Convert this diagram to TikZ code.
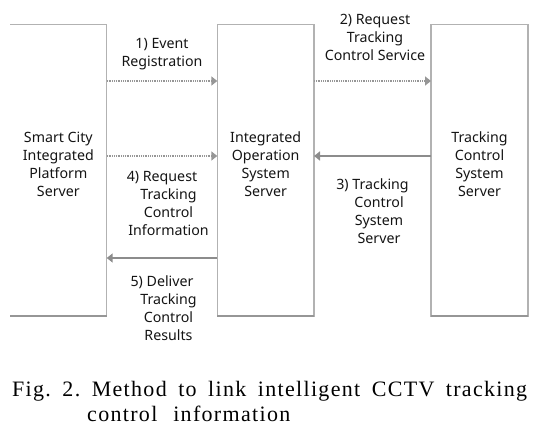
\documentclass[tikz,border=0pt]{standalone}
\usepackage{fontspec}
\setmainfont{Liberation Serif}
\newfontfamily\diagfont{Noto Sans}
\newfontfamily\capfont[LetterSpace=6]{Liberation Serif}
\usetikzlibrary{arrows.meta}
\definecolor{boxgray}{RGB}{178,178,178}
\definecolor{shadowgray}{RGB}{150,150,150}
\definecolor{arrowgray}{RGB}{140,140,140}
\definecolor{dotgray}{RGB}{150,150,150}
\definecolor{txt}{RGB}{20,20,20}
\frenchspacing
\begin{document}
\begin{tikzpicture}[x=1pt,y=-1pt,
  box/.style={line width=1.1pt,minimum width=96.7pt,minimum height=292.4pt,inner sep=0pt,outer sep=0pt},
  lbl/.style={font=\diagfont\fontsize{14.2}{18}\selectfont,align=center,inner sep=0pt,text=txt},
  flow/.style={draw=arrowgray,line width=1.8pt,-{Triangle[length=6pt,width=9pt]}},
  dotflow/.style={draw=dotgray,line width=1.5pt,dash pattern=on 1pt off 0.8pt,-{Triangle[length=6pt,width=9pt]}},
  shadowline/.style={draw=shadowgray,line width=1.6pt},
  captext/.style={font=\capfont\fontsize{22}{25}\selectfont,inner sep=0pt,anchor=base west}]
\useasboundingbox (0,0) rectangle (548,433);
% boxes
\node[box] (L) at (58.35,170.5) {};
\node[box,draw=boxgray] (M) at (265.65,170.5) {};
\node[box,draw=boxgray,minimum width=97pt] (R) at (479.5,170.5) {};
\draw[boxgray,line width=1.1pt] (L.north west) -- (L.north east) -- (L.south east) -- (L.south west);
\draw[shadowline] ([yshift=1pt]L.south west) -- ([yshift=1pt]L.south east);
\draw[shadowline] ([yshift=1pt]M.south west) -- ([yshift=1pt]M.south east);
\draw[shadowline] ([yshift=1pt]R.south west) -- ([yshift=1pt]R.south east);
% box texts
\node[lbl] (Lt) at (58.35,164) {Smart City\\Integrated\\Platform\\Server};
\node[lbl] (Mt) at (265.65,164) {Integrated\\Operation\\System\\Server};
\node[lbl] (Rt) at (479.5,164) {Tracking\\Control\\System\\Server};
% arrow end points
\coordinate (a1s) at (L.east |- 0,81);
\coordinate (a1e) at (M.west |- 0,81);
\coordinate (a2s) at (M.east |- 0,81);
\coordinate (a2e) at (R.west |- 0,81);
\coordinate (a3s) at (R.west |- 0,156);
\coordinate (a3e) at (M.east |- 0,156);
\coordinate (a4s) at (L.east |- 0,156);
\coordinate (a4e) at (M.west |- 0,156);
\coordinate (a5s) at (M.west |- 0,258);
\coordinate (a5e) at (L.east |- 0,258);
\draw[dotflow] (a1s) -- (a1e);
\draw[dotflow] (a2s) -- (a2e);
\draw[flow] (a3s) -- (a3e);
\draw[dotflow] (a4s) -- (a4e);
\draw[flow] (a5s) -- (a5e);
% labels
\node[lbl] (l1) at (162,54) {1) Event\\Registration};
\node[lbl] (l2) at (375,37) {2) Request\\Tracking\\Control Service};
\node[lbl] (l3) at (379,211) {3) Tracking\hspace*{13pt}\\Control\\System\\Server};
\node[lbl] (l4) at (168.5,203.5) {4) Request\hspace*{13pt}\\Tracking\\Control\\Information};
\node[lbl] (l5) at (168.5,308) {5) Deliver\hspace*{13pt}\\Tracking\\Control\\Results};
% caption
\node[captext] (c1) at (12,396) {\hbox to 515pt{Fig. 2. Method to link intelligent CCTV tracking}};
\node[captext] (c2) at (87,421) {control\hspace{9pt} information};
\end{tikzpicture}
\end{document}
